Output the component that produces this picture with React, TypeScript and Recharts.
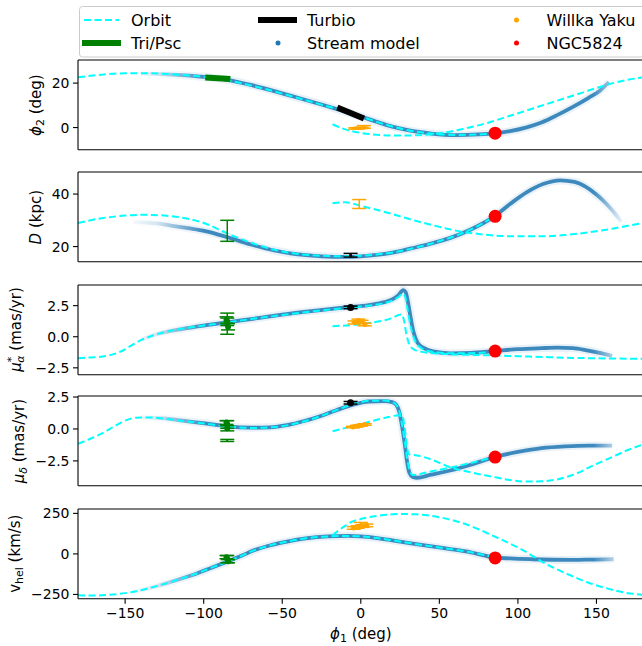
import React from "react";
import { ComposedChart, ErrorBar, Line, ReferenceLine, Scatter, XAxis, YAxis } from "recharts";

type Pt = [number, number];
type Obs = [number, number, number, number]; // phi1, value, error, marker radius

const FONT = "'DejaVu Sans', sans-serif";
const ORBIT = "#00ffff";
const STREAM = "#1f77b4";
const TRIPSC = "#008000";
const TURBIO = "#000000";
const WILLKA = "#ffa500";
const NGC = "#ff0000";

const PHI1_TICKS = [-150, -100, -50, 0, 50, 100, 150];

// ---- phi2 (deg)
const orbitAPhi2: Pt[] = [
  [-180, 22.6], [-165, 23.8], [-150, 24.4], [-135, 24.4], [-120, 24.0], [-105, 23.2],
  [-90, 22.0], [-75, 19.8], [-60, 17.2], [-45, 14.3], [-30, 11.3], [-15, 8.3], [0, 5.0],
  [15, 1.5], [30, -1.2], [45, -2.7], [60, -3.3], [75, -3.1], [85, -2.6],
];
const orbitBPhi2: Pt[] = [
  [-18, 1.5], [-10, -0.8], [0, -2.4], [10, -3.2], [20, -3.6], [35, -3.5], [50, -2.6],
  [65, -0.6], [80, 2.0], [95, 5.3], [110, 8.7], [125, 12.1], [140, 15.5], [155, 18.9],
  [170, 21.5], [180, 22.6],
];
const streamPhi2: Pt[] = [
  [-140, 24.3], [-120, 23.8], [-100, 22.8], [-85, 21.5], [-70, 19.2], [-55, 16.4], [-40, 13.4],
  [-25, 10.4], [-10, 7.2], [0, 5.0], [10, 2.6], [20, 0.4], [30, -1.2], [45, -2.7], [60, -3.4],
  [75, -3.1], [85, -2.6], [95, -1.6], [105, 0.0], [115, 2.3], [125, 5.6], [135, 9.3],
  [145, 13.4], [152, 16.5], [158, 20.5],
];
const triPscPhi2: Pt[] = [[-99, 22.5], [-83, 21.9]];
const turbioPhi2: Pt[] = [[-15, 9.0], [2, 4.1]];
const willkaPhi2: Obs[] = [[-3.5, -0.4, 0.3, 1.5], [-1.5, -0.3, 0.3, 1.5], [0.5, -0.1, 0.3, 1.5], [2, 0.3, 0.6, 1.5]];
const ngcPhi2: Pt = [85.5, -2.5];

// ---- distance (kpc)
const orbitADist: Pt[] = [
  [-180, 29.0], [-165, 30.8], [-150, 31.8], [-138, 32.1], [-125, 31.8], [-110, 30.6], [-99, 28.8],
  [-85, 25.0], [-70, 21.5], [-55, 18.8], [-40, 17.2], [-25, 16.5], [-10, 16.3], [0, 16.5],
  [10, 17.0], [21, 17.8], [32, 19.2], [44, 21.0], [55, 23.0], [65, 25.2], [75, 28.0], [85, 31.5],
];
const orbitBDist: Pt[] = [
  [-18, 36.5], [-10, 36.9], [0, 35.5], [10, 34.0], [20, 32.4], [32, 30.3], [44, 28.4], [55, 26.8],
  [65, 25.6], [75, 24.8], [85, 24.2], [100, 23.9], [115, 23.9], [130, 24.4], [145, 25.4],
  [160, 26.8], [170, 27.9], [180, 29.0],
];
const streamDist: Pt[] = [
  [-145, 29.3], [-130, 28.8], [-120, 27.9], [-110, 27.0], [-99, 25.9], [-85, 23.6], [-70, 20.8],
  [-55, 18.5], [-40, 17.0], [-25, 16.3], [-10, 16.1], [0, 16.3], [10, 16.8], [21, 17.8],
  [32, 19.3], [44, 21.0], [57, 23.3], [70, 26.5], [85, 31.5], [95, 36.2], [106, 40.8],
  [116, 43.8], [127, 45.2], [136, 44.6], [143, 42.8], [150, 39.8], [156, 36.5], [162, 32.5],
  [166, 29.5],
];
const triPscDist: Obs[] = [[-85, 26, 4, 0]];
const turbioDist: Obs[] = [[-6.5, 16.7, 0.7, 1.5]];
const willkaDist: Obs[] = [[-1, 36.2, 1.7, 0]];
const ngcDist: Pt = [85.5, 31.5];

// ---- mu_alpha* (mas/yr)
const orbitAPmra: Pt[] = [
  [-180, -1.72], [-170, -1.65], [-162, -1.55], [-155, -1.3], [-150, -1.02], [-145, -0.62],
  [-140, -0.28], [-132, 0.12], [-122, 0.45], [-110, 0.72], [-99, 0.92], [-85, 1.15], [-70, 1.42],
  [-50, 1.75], [-30, 2.05], [-10, 2.3], [5, 2.5], [15, 2.7], [20, 2.9], [24, 3.2], [26.5, 3.45],
  [28, 3.3], [29.5, 2.4], [31, 1.3], [33, 0.2], [35.5, -0.55], [39, -0.95], [45, -1.2],
  [55, -1.32], [70, -1.32], [85, -1.2],
];
const orbitBPmra: Pt[] = [
  [-18, 0.85], [-5, 0.95], [5, 1.1], [15, 1.32], [20, 1.5], [24, 1.75], [26, 1.8], [27.5, 1.3],
  [29, 0.2], [30.5, -0.5], [33, -0.95], [37, -1.17], [47, -1.33], [60, -1.42], [83, -1.5],
  [109, -1.6], [135, -1.7], [160, -1.75], [180, -1.78],
];
const streamPmra: Pt[] = [
  [-140, -0.25], [-130, 0.2], [-115, 0.6], [-99, 0.92], [-85, 1.15], [-70, 1.42], [-50, 1.78],
  [-30, 2.08], [-10, 2.35], [5, 2.55], [15, 2.78], [20, 3.0], [24, 3.35], [27, 3.75], [28.5, 3.6],
  [30, 2.8], [31.5, 1.7], [33.5, 0.4], [36, -0.45], [40, -0.9], [46, -1.18], [57, -1.33],
  [70, -1.3], [85, -1.15], [100, -1.0], [115, -0.92], [125, -0.88], [135, -0.92], [143, -1.07],
  [152, -1.3], [160, -1.55],
];
const triPscPmra: Obs[] = [[-85, 1.05, 0.85, 3], [-85.5, 1.35, 0.25, 3], [-84.5, 0.8, 0.25, 3], [-85, 1.2, 0.3, 3]];
const turbioPmra: Obs[] = [[-6.5, 2.36, 0.1, 3.5]];
const willkaPmra: Obs[] = [[-4, 1.15, 0.12, 2.5], [-1.5, 1.3, 0.12, 2.5], [0.5, 1.2, 0.12, 2.5], [2.5, 0.98, 0.1, 2.5]];
const ngcPmra: Pt = [85.5, -1.15];

// ---- mu_delta (mas/yr)
const orbitAPmdec: Pt[] = [
  [-180, -1.17], [-170, -0.65], [-164, -0.31], [-157, 0.2], [-151, 0.6], [-143, 0.88], [-135, 0.9],
  [-125, 0.8], [-112, 0.6], [-99, 0.42], [-85, 0.2], [-75, 0.1], [-68, 0.08], [-58, 0.12],
  [-47, 0.28], [-36, 0.6], [-26, 0.99], [-16, 1.45], [-6.5, 1.88], [0, 2.1], [5, 2.2], [15, 2.22],
  [20, 2.1], [22.5, 1.9], [24.5, 1.4], [26, 0.5], [28, -1.0], [29.5, -2.3], [31, -3.2], [33, -3.6],
  [35, -3.6], [40, -3.45], [50, -3.2], [60, -2.95], [72, -2.6], [85, -2.2],
];
const orbitBPmdec: Pt[] = [
  [-18, -0.18], [0, 0.39], [15, 0.86], [24.5, 1.07], [26.5, 1.0], [28, 0.0], [29.5, -1.5],
  [31, -2.0], [35, -2.05], [45, -2.4], [57, -3.0], [70, -3.4], [83, -3.72], [95, -4.0],
  [104, -4.12], [115, -4.1], [125, -3.95], [137, -3.5], [148, -2.85], [160, -2.2], [170, -1.65],
  [180, -1.2],
];
const streamPmdec: Pt[] = [
  [-140, 0.9], [-125, 0.82], [-110, 0.6], [-99, 0.44], [-85, 0.2], [-70, 0.1], [-58, 0.13],
  [-47, 0.3], [-36, 0.62], [-26, 1.0], [-16, 1.45], [-6.5, 1.85], [0, 2.05], [5, 2.15], [15, 2.18],
  [20, 2.1], [22.5, 1.9], [24.5, 1.35], [26, 0.4], [28, -1.2], [29.5, -2.6], [31, -3.45],
  [33, -3.75], [36, -3.82], [44, -3.6], [57, -3.25], [70, -2.8], [85, -2.2], [100, -1.8],
  [115, -1.5], [130, -1.36], [145, -1.3], [160, -1.3],
];
const triPscPmdec: Obs[] = [[-85, 0.35, 0.3, 3], [-85, 0.05, 0.2, 3], [-85.5, 0.5, 0.15, 3], [-85, -0.9, 0.08, 1]];
const turbioPmdec: Obs[] = [[-6.5, 2.05, 0.1, 3.5]];
const willkaPmdec: Obs[] = [[-5, 0.15, 0.06, 2.5], [-2.5, 0.22, 0.06, 2.5], [0, 0.28, 0.06, 2.5], [2.5, 0.35, 0.06, 2.5]];
const ngcPmdec: Pt = [85.5, -2.2];

// ---- v_hel (km/s)
const orbitAVrad: Pt[] = [
  [-180, -255], [-170, -257], [-160, -252], [-150, -242], [-143, -231], [-135, -212], [-125, -185],
  [-115, -155], [-104, -119], [-95, -85], [-85, -48], [-76, -12], [-68, 22], [-58, 52], [-47, 76],
  [-35, 96], [-21, 108], [-8, 111], [0, 108], [10, 98], [20, 84], [31, 67], [44, 48], [57, 30],
  [70, 10], [85, -20],
];
const orbitBVrad: Pt[] = [
  [-18, 115], [-12, 160], [-5.5, 199], [0, 215], [10, 234], [20, 244], [26, 246], [35, 244],
  [44, 236], [55, 216], [65, 189], [75, 152], [83, 117], [92, 77], [101, 35], [109, -10],
  [117, -57], [126, -100], [135, -139], [145, -178], [156, -211], [167, -237], [179, -252],
];
const streamVrad: Pt[] = [
  [-160, -252], [-150, -242], [-143, -231], [-135, -212], [-125, -185], [-115, -155], [-104, -119],
  [-95, -85], [-85, -48], [-76, -12], [-68, 22], [-58, 52], [-47, 76], [-35, 96], [-21, 108],
  [-8, 111], [0, 108], [10, 98], [20, 84], [31, 67], [44, 48], [57, 30], [70, 10], [85, -22],
  [95, -28], [109, -33], [122, -36], [135, -37], [148, -35], [161, -33],
];
const triPscVrad: Obs[] = [[-85, -32, 22, 3], [-85.5, -20, 10, 3], [-84.5, -45, 10, 3]];
const willkaVrad: Obs[] = [[-4.5, 160, 8, 2.5], [-2, 166, 8, 2.5], [1, 172, 8, 2.5], [3.5, 176, 8, 2.5], [0, 182, 12, 1]];
const ngcVrad: Pt = [85.5, -25];

const PLOT_H = 89.8;
const PAD_TOP = 10;
const PLOT_LEFT = 78;
const PLOT_RIGHT = 643.6;

const PANELS = [
  {
    top: 60.3, domain: [-10, 30.4], ticks: [0, 20], decimals: 0,
    orbitA: orbitAPhi2, orbitB: orbitBPhi2, stream: streamPhi2,
    triLine: triPscPhi2, turbioLine: turbioPhi2, tri: [] as Obs[], turbio: [] as Obs[],
    willka: willkaPhi2, ngc: ngcPhi2,
  },
  {
    top: 172.3, domain: [14.2, 48.4], ticks: [20, 40], decimals: 0,
    orbitA: orbitADist, orbitB: orbitBDist, stream: streamDist,
    triLine: null, turbioLine: null, tri: triPscDist, turbio: turbioDist,
    willka: willkaDist, ngc: ngcDist,
  },
  {
    top: 284.6, domain: [-3.06, 4.16], ticks: [-2.5, 0, 2.5], decimals: 1,
    orbitA: orbitAPmra, orbitB: orbitBPmra, stream: streamPmra,
    triLine: null, turbioLine: null, tri: triPscPmra, turbio: turbioPmra,
    willka: willkaPmra, ngc: ngcPmra,
  },
  {
    top: 396.2, domain: [-4.45, 2.58], ticks: [-2.5, 0, 2.5], decimals: 1,
    orbitA: orbitAPmdec, orbitB: orbitBPmdec, stream: streamPmdec,
    triLine: null, turbioLine: null, tri: triPscPmdec, turbio: turbioPmdec,
    willka: willkaPmdec, ngc: ngcPmdec,
  },
  {
    top: 508.8, domain: [-277, 277], ticks: [-250, 0, 250], decimals: 0,
    orbitA: orbitAVrad, orbitB: orbitBVrad, stream: streamVrad,
    triLine: null, turbioLine: null, tri: triPscVrad, turbio: [] as Obs[],
    willka: willkaVrad, ngc: ngcVrad,
  },
];

// stream density fade along phi1 (the model thins out at both ends)
const STREAM_FADE: Array<[number, number]> = [
  [-150, 0], [-130, 0.2], [-100, 1], [148, 1], [168, 0],
];

const rows = (pts: Pt[]) => pts.map(([x, y]) => ({ x, y }));
const obsRows = (pts: Obs[]) => pts.map(([x, y, err, r]) => ({ x, y, err, r }));

function fmt(v: number, decimals: number) {
  return v.toFixed(decimals).replace("-", "\u2212");
}

function dot(color: string) {
  return (props: any) => {
    const r = props.payload?.r ?? 0;
    if (!r || props.cx == null) return <g />;
    return <circle cx={props.cx} cy={props.cy} r={r} fill={color} />;
  };
}

function Panel({ cfg, last }: { cfg: (typeof PANELS)[number]; last: boolean }) {
  const xHeight = last ? 30 : 6;
  const axisStroke = { stroke: "#000", strokeWidth: 1.1 };
  const tickStyle = { fill: "#000", fontSize: 14, fontFamily: FONT };
  const dash = "7 3.5";
  return (
    <div style={{ position: "absolute", left: 0, top: cfg.top - PAD_TOP }}>
      <ComposedChart
        width={646}
        height={PAD_TOP + PLOT_H + xHeight}
        margin={{ top: PAD_TOP, right: 646 - PLOT_RIGHT, bottom: 0, left: 0 }}
      >
        <XAxis
          dataKey="x"
          type="number"
          domain={[-180, 180]}
          ticks={PHI1_TICKS}
          interval={0}
          allowDataOverflow
          height={xHeight}
          tickSize={5}
          tickMargin={4}
          axisLine={axisStroke}
          tickLine={axisStroke}
          tick={last ? tickStyle : false}
          tickFormatter={(v: number) => fmt(v, 0)}
        />
        <YAxis
          dataKey="y"
          type="number"
          domain={cfg.domain}
          ticks={cfg.ticks}
          interval={0}
          allowDataOverflow
          width={PLOT_LEFT}
          tickSize={5}
          tickMargin={3.5}
          axisLine={axisStroke}
          tickLine={axisStroke}
          tick={tickStyle}
          tickFormatter={(v: number) => fmt(v, cfg.decimals)}
        />
        <ReferenceLine y={cfg.domain[1]} stroke="#000" strokeWidth={1.1} ifOverflow="visible" />
        <Line data={rows(cfg.stream)} dataKey="y" type="monotone" stroke="url(#streamFade)" strokeOpacity={0.1} strokeWidth={8} dot={false} isAnimationActive={false} />
        <Line data={rows(cfg.stream)} dataKey="y" type="monotone" stroke="url(#streamFade)" strokeOpacity={0.85} strokeWidth={3.8} dot={false} isAnimationActive={false} />
        <Line data={rows(cfg.orbitA)} dataKey="y" type="monotone" stroke={ORBIT} strokeWidth={2} strokeDasharray={dash} dot={false} isAnimationActive={false} />
        <Line data={rows(cfg.orbitB)} dataKey="y" type="monotone" stroke={ORBIT} strokeWidth={2} strokeDasharray={dash} dot={false} isAnimationActive={false} />
        {cfg.triLine && (
          <Line data={rows(cfg.triLine)} dataKey="y" type="linear" stroke={TRIPSC} strokeWidth={6} dot={false} isAnimationActive={false} />
        )}
        {cfg.turbioLine && (
          <Line data={rows(cfg.turbioLine)} dataKey="y" type="linear" stroke={TURBIO} strokeWidth={6} dot={false} isAnimationActive={false} />
        )}
        {cfg.tri.length > 0 && (
          <Scatter data={obsRows(cfg.tri)} dataKey="y" fill={TRIPSC} shape={dot(TRIPSC)} isAnimationActive={false}>
            <ErrorBar dataKey="err" direction="y" width={7} stroke={TRIPSC} strokeWidth={1.5} />
          </Scatter>
        )}
        {cfg.turbio.length > 0 && (
          <Scatter data={obsRows(cfg.turbio)} dataKey="y" fill={TURBIO} shape={dot(TURBIO)} isAnimationActive={false}>
            <ErrorBar dataKey="err" direction="y" width={7} stroke={TURBIO} strokeWidth={1.5} />
          </Scatter>
        )}
        <Scatter data={obsRows(cfg.willka)} dataKey="y" fill={WILLKA} shape={dot(WILLKA)} isAnimationActive={false}>
          <ErrorBar dataKey="err" direction="y" width={7} stroke={WILLKA} strokeWidth={1.5} />
        </Scatter>
        <Scatter data={[{ x: cfg.ngc[0], y: cfg.ngc[1], r: 6.5 }]} dataKey="y" fill={NGC} shape={dot(NGC)} isAnimationActive={false} />
      </ComposedChart>
    </div>
  );
}

function YLabel({ x, y, children }: { x: number; y: number; children: React.ReactNode }) {
  return (
    <text transform={`translate(${x}, ${y}) rotate(-90)`} textAnchor="middle" fontSize={15} fontFamily={FONT} fill="#000">
      {children}
    </text>
  );
}

function Overlay() {
  const lf = { fontSize: 16, fontFamily: FONT, fill: "#000" };
  const centers = PANELS.map((p) => p.top + PLOT_H / 2);
  const toOffset = (phi: number) => (phi + 180) / 360;
  return (
    <svg width={642} height={646} style={{ position: "absolute", left: 0, top: 0, pointerEvents: "none" }}>
      <defs>
        <linearGradient id="streamFade" gradientUnits="userSpaceOnUse" x1={PLOT_LEFT} y1={0} x2={PLOT_RIGHT} y2={0}>
          {STREAM_FADE.map(([phi, a]) => (
            <stop key={phi} offset={toOffset(phi)} stopColor={STREAM} stopOpacity={a} />
          ))}
        </linearGradient>
      </defs>

      {/* legend */}
      <rect x={79.5} y={6.5} width={600} height={50.5} rx={3} fill="#fff" fillOpacity={0.8} stroke="#cccccc" />
      <line x1={84} y1={20} x2={119} y2={20} stroke={ORBIT} strokeWidth={2} strokeDasharray="7 3.5" />
      <text x={131} y={25.8} {...lf}>Orbit</text>
      <line x1={82} y1={43} x2={121} y2={43} stroke={TRIPSC} strokeWidth={6} />
      <text x={131} y={48.8} {...lf}>Tri/Psc</text>
      <line x1={258} y1={20} x2={297} y2={20} stroke={TURBIO} strokeWidth={6} />
      <text x={307} y={25.8} {...lf}>Turbio</text>
      <circle cx={278} cy={43} r={2.5} fill={STREAM} />
      <text x={307} y={48.8} {...lf}>Stream model</text>
      <circle cx={516.5} cy={20} r={2.5} fill={WILLKA} />
      <text x={546.5} y={25.8} {...lf}>Willka Yaku</text>
      <circle cx={516.5} cy={43} r={2.5} fill={NGC} />
      <text x={546.5} y={48.8} {...lf}>NGC5824</text>

      {/* y labels */}
      <YLabel x={40.5} y={centers[0]}>
        <tspan fontStyle="italic">ϕ</tspan>
        <tspan fontSize={11} dy={3}>2</tspan>
        <tspan dy={-3}> (deg)</tspan>
      </YLabel>
      <YLabel x={40.5} y={centers[1]}>
        <tspan fontStyle="italic">D</tspan>
        <tspan> (kpc)</tspan>
      </YLabel>
      <YLabel x={20.5} y={centers[2]}>
        <tspan fontStyle="italic">μ</tspan>
        <tspan fontSize={11} dy={-6}>*</tspan>
        <tspan fontSize={11} fontStyle="italic" dy={9} dx={-6}>α</tspan>
        <tspan dy={-3}> (mas/yr)</tspan>
      </YLabel>
      <YLabel x={23.5} y={centers[3]}>
        <tspan fontStyle="italic">μ</tspan>
        <tspan fontSize={11} fontStyle="italic" dy={3}>δ</tspan>
        <tspan dy={-3}> (mas/yr)</tspan>
      </YLabel>
      <YLabel x={19.5} y={centers[4]}>
        <tspan>v</tspan>
        <tspan fontSize={11} dy={3}>hel</tspan>
        <tspan dy={-3}> (km/s)</tspan>
      </YLabel>

      {/* x label */}
      <text x={360.8} y={639} textAnchor="middle" fontSize={15} fontFamily={FONT} fill="#000">
        <tspan fontStyle="italic">ϕ</tspan>
        <tspan fontSize={11} dy={3}>1</tspan>
        <tspan dy={-3}> (deg)</tspan>
      </text>
    </svg>
  );
}

export default function App() {
  return (
    <div
      style={{
        position: "absolute",
        left: 0,
        top: 0,
        width: 642,
        height: 646,
        overflow: "hidden",
        background: "#fff",
      }}
    >
      {PANELS.map((cfg, i) => (
        <Panel key={i} cfg={cfg} last={i === PANELS.length - 1} />
      ))}
      <Overlay />
    </div>
  );
}
